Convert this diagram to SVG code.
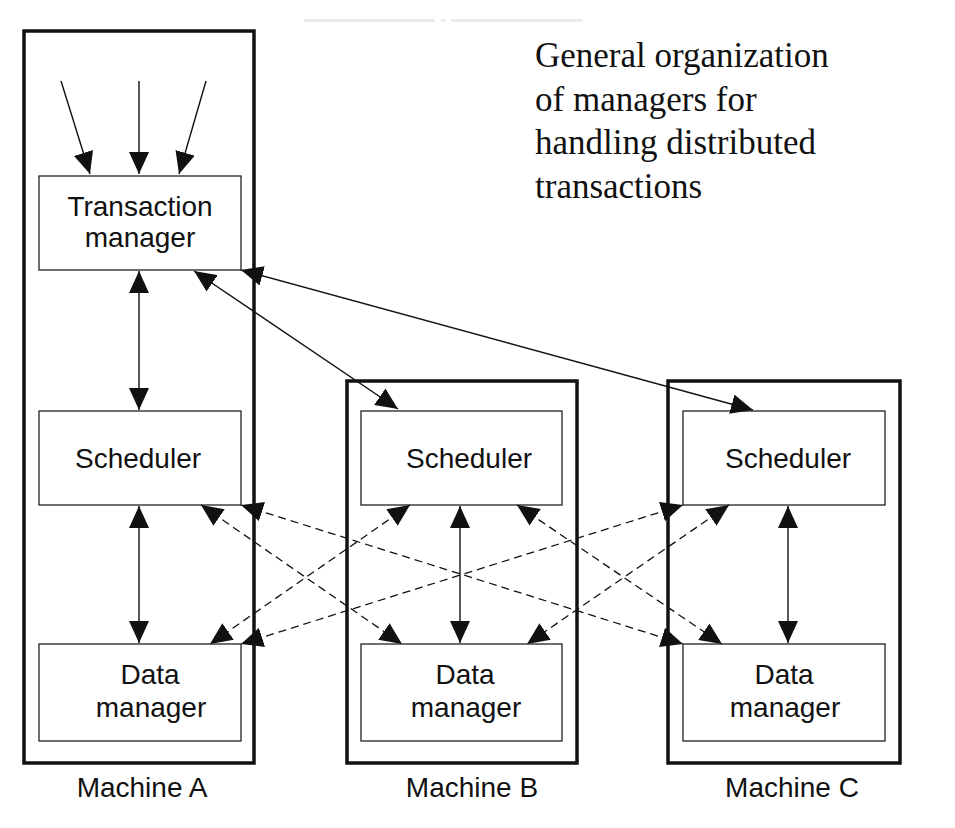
<svg xmlns="http://www.w3.org/2000/svg" width="955" height="828" viewBox="0 0 955 828">
<defs>
<style>
.mach{fill:none;stroke:#111;stroke-width:3.5}
.box{fill:#fff;stroke:#222;stroke-width:1.3}
.lbl{font-family:"Liberation Sans",Arial,sans-serif;font-size:28px;fill:#111;text-anchor:middle}
.title{font-family:"Liberation Serif","Times New Roman",serif;font-size:35px;fill:#111}
.ln{fill:none;stroke:#111;stroke-width:1.4}
.dash{fill:none;stroke:#111;stroke-width:1.3;stroke-dasharray:8 5}
</style>
<marker id="ah" viewBox="0 0 22 20" markerWidth="22" markerHeight="20" refX="22" refY="10" markerUnits="userSpaceOnUse" orient="auto-start-reverse">
<path d="M0,0 L22,10 L0,20 z" fill="#111"/>
</marker>
</defs>
<rect width="955" height="828" fill="#fff"/>
<g id="artifact" fill="#e8ebef">
<rect x="304" y="19" width="131" height="3"/>
<rect x="441" y="19" width="5" height="3"/>
<rect x="451" y="19" width="131" height="3"/>
</g>
<g id="title">
<text class="title" x="535" y="67">General organization</text>
<text class="title" x="535" y="110.5">of managers for</text>
<text class="title" x="535" y="154">handling distributed</text>
<text class="title" x="535" y="197.5">transactions</text>
</g>
<g id="machine-a">
<rect class="mach" x="24" y="31" width="230" height="732"/>
<text class="lbl" x="142" y="797">Machine A</text>
</g>
<g id="machine-b">
<rect class="mach" x="347" y="381" width="230" height="382"/>
<text class="lbl" x="472" y="797">Machine B</text>
</g>
<g id="machine-c">
<rect class="mach" x="668" y="381" width="232" height="382"/>
<text class="lbl" x="792" y="797">Machine C</text>
</g>
<g id="tm-a">
<rect class="box" x="39" y="176" width="202" height="94"/>
<text class="lbl" x="140" y="216">Transaction</text>
<text class="lbl" x="140" y="247">manager</text>
</g>
<g id="sched-a">
<rect class="box" x="39" y="411" width="202" height="94"/>
<text class="lbl" x="138" y="468">Scheduler</text>
</g>
<g id="dm-a">
<rect class="box" x="39" y="644" width="202" height="97"/>
<text class="lbl" x="150" y="684">Data</text>
<text class="lbl" x="151" y="717">manager</text>
</g>
<g id="sched-b">
<rect class="box" x="361" y="411" width="201" height="94"/>
<text class="lbl" x="469" y="468">Scheduler</text>
</g>
<g id="dm-b">
<rect class="box" x="361" y="644" width="201" height="97"/>
<text class="lbl" x="465" y="684">Data</text>
<text class="lbl" x="466" y="717">manager</text>
</g>
<g id="sched-c">
<rect class="box" x="683" y="411" width="202" height="94"/>
<text class="lbl" x="788" y="468">Scheduler</text>
</g>
<g id="dm-c">
<rect class="box" x="683" y="644" width="202" height="97"/>
<text class="lbl" x="784" y="684">Data</text>
<text class="lbl" x="785" y="717">manager</text>
</g>
<g id="connectors">
<line class="ln" x1="61" y1="81" x2="90" y2="174" marker-end="url(#ah)"/>
<line class="ln" x1="139" y1="81" x2="139" y2="174" marker-end="url(#ah)"/>
<line class="ln" x1="206" y1="81" x2="179" y2="174" marker-end="url(#ah)"/>
<line class="ln" x1="139" y1="271" x2="139" y2="410" marker-start="url(#ah)" marker-end="url(#ah)"/>
<line class="ln" x1="139" y1="506" x2="139" y2="643" marker-start="url(#ah)" marker-end="url(#ah)"/>
<line class="ln" x1="460" y1="506" x2="460" y2="643" marker-start="url(#ah)" marker-end="url(#ah)"/>
<line class="ln" x1="788" y1="506" x2="788" y2="643" stroke="#444" stroke-width="1.1" marker-start="url(#ah)" marker-end="url(#ah)"/>
<line class="ln" x1="194" y1="271" x2="398" y2="409" stroke-width="1.1" marker-start="url(#ah)" marker-end="url(#ah)"/>
<line class="ln" x1="241" y1="270" x2="753" y2="410" stroke-width="1.1" marker-start="url(#ah)" marker-end="url(#ah)"/>
<line class="dash" x1="201" y1="505" x2="402" y2="644" marker-start="url(#ah)" marker-end="url(#ah)"/>
<line class="dash" x1="410" y1="505" x2="210" y2="644" marker-start="url(#ah)" marker-end="url(#ah)"/>
<line class="dash" x1="517" y1="505" x2="722" y2="644" marker-start="url(#ah)" marker-end="url(#ah)"/>
<line class="dash" x1="729" y1="505" x2="527" y2="644" marker-start="url(#ah)" marker-end="url(#ah)"/>
<line class="dash" x1="241" y1="505" x2="683" y2="644" marker-start="url(#ah)" marker-end="url(#ah)"/>
<line class="dash" x1="683" y1="505" x2="241" y2="644" marker-start="url(#ah)" marker-end="url(#ah)"/>
</g>
</svg>
